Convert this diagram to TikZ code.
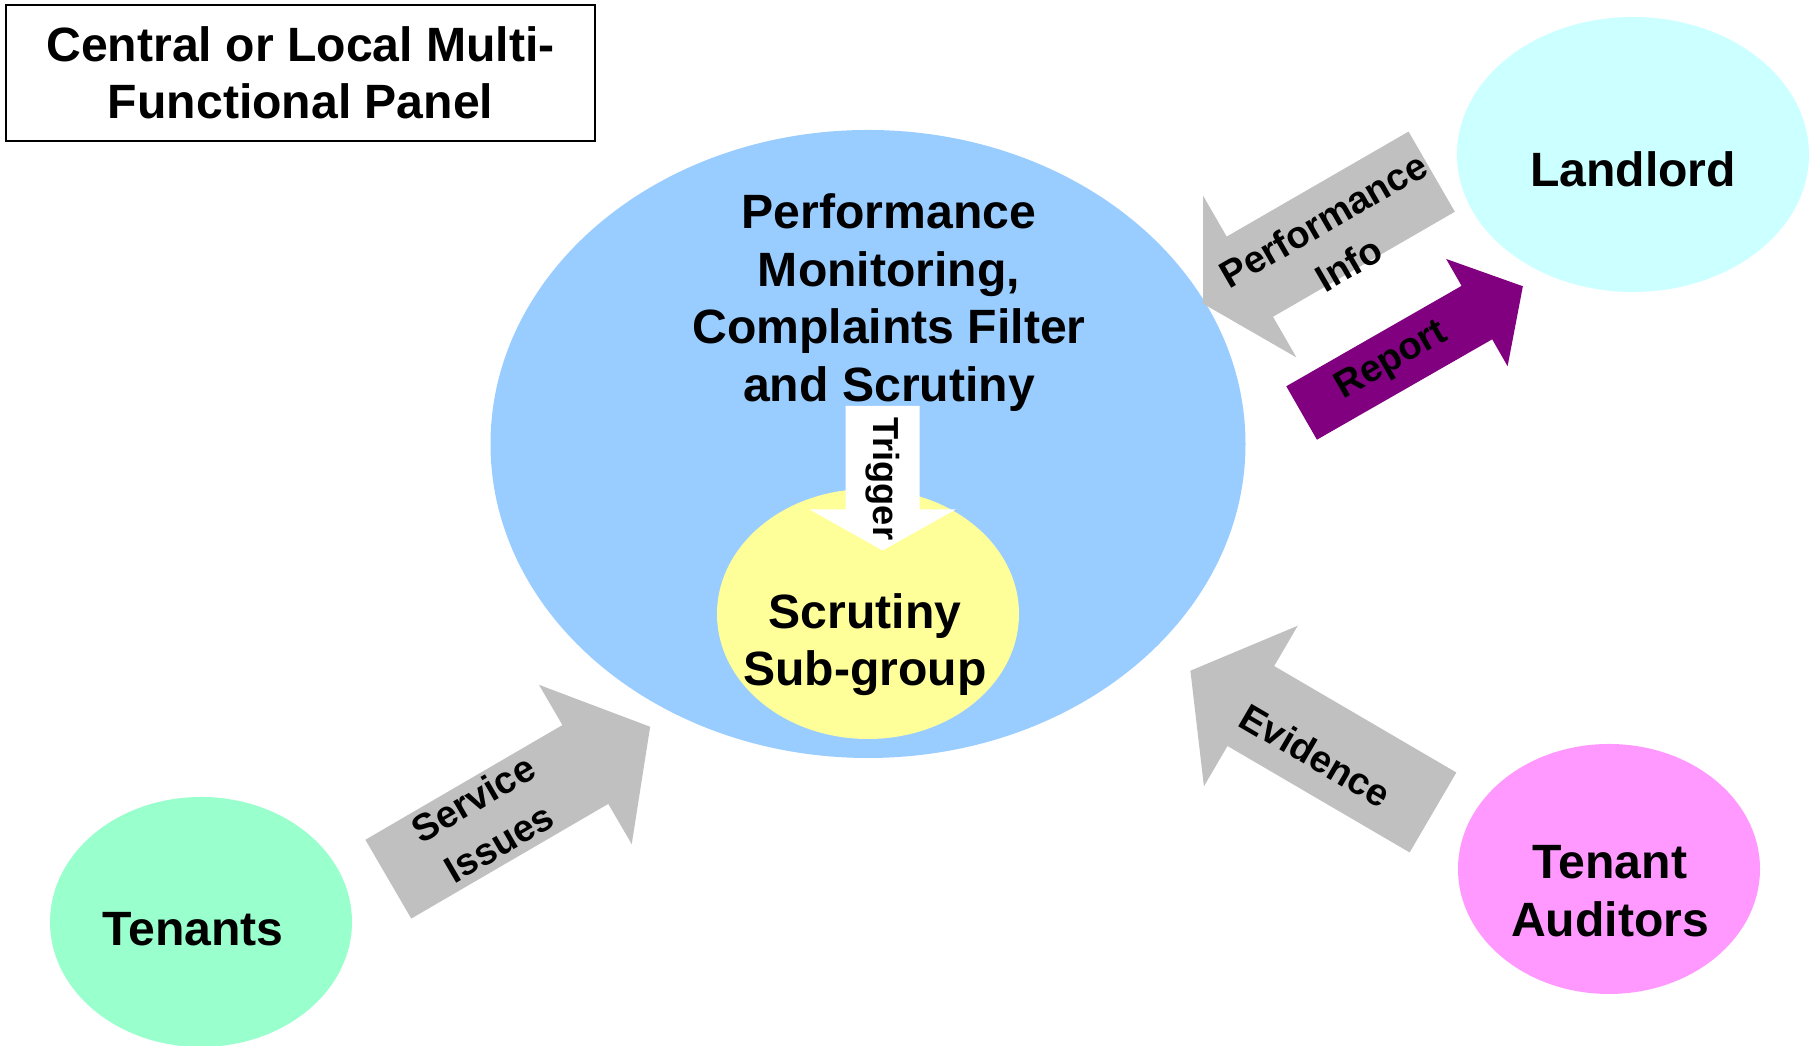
\documentclass[tikz,border=0pt]{standalone}
\usepackage{fontspec}
\setmainfont{Liberation Sans}
\usetikzlibrary{positioning,shapes.geometric}
\definecolor{panelblue}{HTML}{99CCFF}
\definecolor{subyellow}{HTML}{FFFF99}
\definecolor{landcyan}{HTML}{CCFFFF}
\definecolor{tenantgreen}{HTML}{99FFCC}
\definecolor{auditpink}{HTML}{FF99FF}
\definecolor{arrowgrey}{HTML}{C0C0C0}
\definecolor{reportpurple}{HTML}{800080}
\tikzset{blob/.style={ellipse,inner sep=0pt,minimum width=3.02cm,minimum height=2.5cm},
  big text/.style={font=\bfseries\fontsize{13.7}{16.4}\selectfont,align=center},
  arrow text/.style={font=\bfseries\fontsize{10.8}{14.5}\selectfont,align=center},
}

\begin{document}
\begin{tikzpicture}
		\useasboundingbox (0,0) rectangle (18.09,10.46);
		% panel with its sub-group
		\node[blob,fill=panelblue,minimum width=7.55cm,minimum height=6.28cm] (panel) at (8.68,6.02) {};
		\node[blob,fill=subyellow] (subgroup) at (8.68,4.32) {};
		% the outside parties
		\node[blob,fill=landcyan,minimum width=3.52cm,minimum height=2.75cm] (landlord) at (16.33,8.915) {};
		\node[blob,fill=tenantgreen] (tenants) at (2.01,1.24) {};
		\node[blob,fill=auditpink] (auditors) at (16.09,1.77) {};
		
		\node[draw,line width=0.6pt,minimum width=5.895cm,minimum height=1.362cm,big text] (title) at (3.006,9.733) {Central or Local Multi-\\Functional Panel};
		
		% trigger
		\coordinate (trig) at (8.826,6.40);
		\begin{scope}[shift={(trig)},rotate=-90]
		\fill[white] (0,-0.37) -- (1.035,-0.37) -- (1.035,-0.73) -- (1.445,0) -- (1.035,0.73) -- (1.035,0.37) -- (0,0.37) -- cycle;
		\node[arrow text,font=\bfseries\fontsize{10.3}{12}\selectfont,rotate=-90] (trigger) at (0.728,0) {Trigger};
		\end{scope}
		
		\node[big text] (monitor) at (8.89,7.433) {Performance\\Monitoring,\\Complaints Filter\\and Scrutiny};
		\node[big text] (subgroup text) at (8.65,4.012) {Scrutiny\\Sub-group};
		\node[big text] (landlord text) at (16.33,8.762) {Landlord};
		\node[big text] (tenants text) at (1.93,1.168) {Tenants};
		\node[big text] (auditors text) at (16.10,1.548) {Tenant\\Auditors};
		
		% service issues
		\coordinate (svc) at (3.883,1.668);
		\begin{scope}[shift={(svc)},rotate=30.2]
		\fill[arrowgrey] (0,-0.456) -- (2.28,-0.456) -- (2.28,-0.922) -- (3.03,0) -- (2.28,0.922) -- (2.28,0.456) -- (0,0.456) -- cycle;
		\node[arrow text,rotate=30.2] (service) at (1.14,0.015) {Service\\Issues};
		\end{scope}
		
		% performance info
		\coordinate (perf) at (14.317,8.743);
		\begin{scope}[shift={(perf)},rotate=210]
		\fill[arrowgrey] (0,-0.463) -- (2.10,-0.463) -- (2.10,-0.933) -- (2.64,0) -- (2.10,0.933) -- (2.10,0.463) -- (0,0.463) -- cycle;
		\node[arrow text,rotate=30] (info) at (1.18,0.13) {Performance\\Info};
		\end{scope}
		
		% report
		\coordinate (rep) at (13.016,6.33);
		\begin{scope}[shift={(rep)},rotate=29.8]
		\fill[reportpurple] (0,-0.308) -- (2.02,-0.308) -- (2.02,-0.618) -- (2.55,0) -- (2.02,0.618) -- (2.02,0.308) -- (0,0.308) -- cycle;
		\node[arrow text,rotate=29.8] (report) at (1.04,0) {Report};
		\end{scope}
		
		% evidence
		\coordinate (evid) at (14.33,2.335);
		\begin{scope}[shift={(evid)},rotate=149.7]
		\fill[arrowgrey] (0,-0.463) -- (2.11,-0.463) -- (2.11,-0.93) -- (2.81,0) -- (2.11,0.93) -- (2.11,0.463) -- (0,0.463) -- cycle;
		\node[arrow text,rotate=-30.3] (evidence) at (1.30,0.10) {Evidence};
		\end{scope}
\end{tikzpicture}
\end{document}
